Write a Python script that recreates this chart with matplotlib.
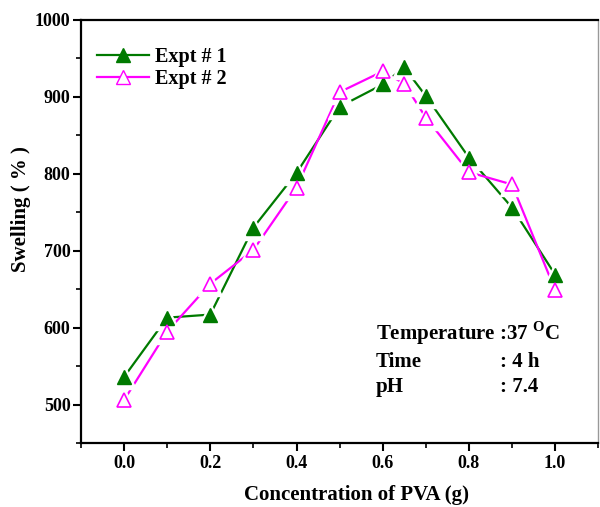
import matplotlib
matplotlib.use("Agg")
import matplotlib.pyplot as plt
from matplotlib.lines import Line2D
from matplotlib.ticker import MultipleLocator

conc = [0.0, 0.1, 0.2, 0.3, 0.4, 0.5, 0.6, 0.65, 0.7, 0.8, 0.9, 1.0]
expt1 = [536, 613, 617, 730, 801, 887, 916, 938, 901, 821, 756, 669]
expt2 = [506, 595, 657, 701, 782, 906, 933, 917, 873, 802, 786, 649]

plt.rcParams['font.family'] = ['Liberation Serif', 'DejaVu Serif']
plt.rcParams['font.weight'] = 'bold'
plt.rcParams['mathtext.fontset'] = 'custom'
plt.rcParams['mathtext.bf'] = 'Liberation Serif:bold'
plt.rcParams['mathtext.rm'] = 'Liberation Serif:bold'

fig = plt.figure(figsize=(6.0, 5.07), dpi=100)
ax = fig.add_axes([0.135, 0.126, 0.862, 0.835])

green = '#007a00'
mag = '#ff00ff'

ax.plot(conc, expt1, color=green, lw=1.6, zorder=2)
ax.plot(conc, expt2, color=mag, lw=1.6, zorder=2)
ax.plot(conc, expt1, ls='none', marker='^', ms=17, mfc='white', mec='white', zorder=3)
ax.plot(conc, expt2, ls='none', marker='^', ms=17, mfc='white', mec='white', zorder=3)
ax.plot(conc, expt1, ls='none', marker='^', ms=10.5, mfc=green, mec=green, zorder=4)
ax.plot(conc, expt2, ls='none', marker='^', ms=10.5, mfc='white', mec=mag, mew=1.2, zorder=4)

ax.set_xlim(-0.1, 1.1)
ax.set_ylim(450, 1000)
ax.xaxis.set_minor_locator(MultipleLocator(0.1))
ax.yaxis.set_minor_locator(MultipleLocator(50))
ax.set_xticks([0.0, 0.2, 0.4, 0.6, 0.8, 1.0])
ax.set_xticklabels(['0.0', '0.2', '0.4', '0.6', '0.8', '1.0'])
ax.set_yticks([500, 600, 700, 800, 900, 1000])
ax.tick_params(which='major', direction='out', length=6, width=1.5, labelsize=13, pad=2.5)
ax.tick_params(axis='y', which='major', pad=1.5)
ax.tick_params(which='minor', direction='out', length=3.5, width=1.2)
ax.tick_params(top=False, right=False)
for lab in ax.get_xticklabels() + ax.get_yticklabels():
    lab.set_fontweight('bold')

for s in ['left', 'bottom', 'top']:
    ax.spines[s].set_linewidth(1.6)
ax.spines['right'].set_linewidth(1.0)
ax.spines['right'].set_color('#999999')

ax.set_xlabel('Concentration of PVA (g)', fontsize=15, fontweight='bold')
ax.xaxis.set_label_coords(0.533, -0.1)
ax.set_ylabel('Swelling ( % )', fontsize=15, fontweight='bold')
ax.yaxis.set_label_coords(-0.097, 0.553)

handles = [
    Line2D([], [], color=green, lw=1.6, marker='^', ms=10.5, mfc=green, mec=green),
    Line2D([], [], color=mag, lw=1.6, marker='^', ms=10.5, mfc='white', mec=mag),
]
ax.legend(handles, ['Expt # 1', 'Expt # 2'], loc='upper left', frameon=False,
          prop={'size': 14.5, 'weight': 'bold'}, handlelength=2.6, handletextpad=0.3,
          labelspacing=0.1, borderaxespad=0.3, bbox_to_anchor=(0.003, 0.97))

fs = 15
ax.text(0.570, 0.245, 'Temperature :37 $^{\\mathbf{O}}$C', transform=ax.transAxes, fontsize=fs, fontweight='bold')
ax.text(0.570, 0.18, 'Time', transform=ax.transAxes, fontsize=fs, fontweight='bold')
ax.text(0.810, 0.18, ': 4 h', transform=ax.transAxes, fontsize=fs, fontweight='bold')
ax.text(0.570, 0.12, 'pH', transform=ax.transAxes, fontsize=fs, fontweight='bold')
ax.text(0.810, 0.12, ': 7.4', transform=ax.transAxes, fontsize=fs, fontweight='bold')

fig.savefig('out.png', dpi=100)
